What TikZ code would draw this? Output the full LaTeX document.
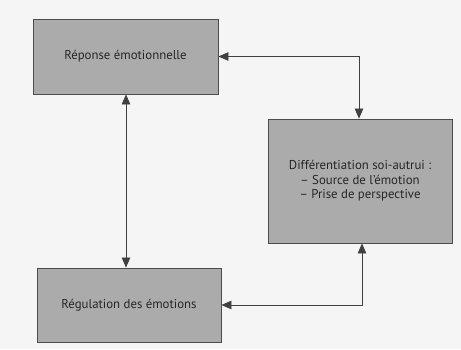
\documentclass[tikz,border=0pt]{standalone}
\usepackage{fontspec}
\setmainfont{PT Sans}
\usetikzlibrary{arrows.meta, positioning, calc}

\begin{document}
\begin{tikzpicture}[x=1pt,y=1pt,>={Triangle[length=10pt,width=8.5pt]},
      thick,
      box/.style={rectangle,draw=black!70,line width=0.8pt,fill=black!33,
        font=\fontsize{12.8}{14.5}\selectfont,text=black!85,align=center},
      link/.style={<->,draw=black!75,line width=0.7pt}]
  \useasboundingbox[fill=black!4] (0,0) rectangle (461,349);
  \node[box, minimum width=185pt, minimum height=75pt] (rep) at (125.5,292.5) {R\'eponse \'emotionnelle};
  \node[box, minimum width=184pt, minimum height=124pt] (diff) at (360,168)
    {Diff\'erentiation soi-autrui :\\ -- Source de l’\'emotion\\ -- Prise de perspective};
  \node[box, minimum width=184pt, minimum height=74pt] (reg) at (129,305-261) {R\'egulation des \'emotions};
  \coordinate (top) at ($(rep.south)+(0.5,0)$);
  \draw[link] (rep.east) -| ($(diff.north)+(-1,0)$);
  \draw[link] (top) -- (top |- reg.north);
  \draw[link] (reg.east) -| ($(diff.south)+(2,0)$);
\end{tikzpicture}
\end{document}
